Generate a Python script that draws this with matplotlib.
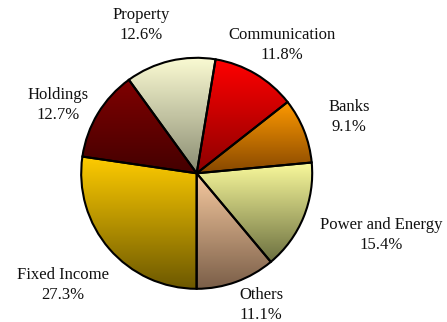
import matplotlib
matplotlib.use("Agg")
import matplotlib.pyplot as plt
import numpy as np
from matplotlib.colors import LinearSegmentedColormap

plt.rcParams['font.family'] = ['Liberation Serif', 'DejaVu Serif']

# slices, clockwise from the top
sectors = ["Communication", "Banks", "Power and Energy", "Others",
           "Fixed Income", "Holdings", "Property"]
shares = [11.8, 9.1, 15.4, 11.1, 27.3, 12.7, 12.6]
top_colors = ["#ff0000", "#ff9a00", "#fafa9c", "#f7caa0",
              "#ffcc00", "#800000", "#fcfcd4"]
bottom_colors = ["#8c0000", "#874800", "#6c7040", "#7a5e48",
                 "#6c5800", "#440000", "#8a8c72"]

# label centres in pixels (x, y from top)
label_pos = [(282, 45), (349, 117), (381, 235), (261, 305),
             (63, 285), (58, 105), (141, 25)]

W, H = 447, 322
fig = plt.figure(figsize=(W / 100, H / 100), dpi=100)
ax = fig.add_axes([0, 0, 1, 1])

cx, cy, R = 196.7, H - 173.3, 115.5
start = 90 - 9.4

wedges, _ = ax.pie(shares, startangle=start, counterclock=False,
                   center=(cx, cy), radius=R, frame=True,
                   wedgeprops=dict(edgecolor='black', linewidth=1.5, facecolor='none'))
ax.set_xlim(0, W)
ax.set_ylim(0, H)
ax.set_aspect('equal')
ax.axis('off')

# vertical gradient inside each slice
grad = np.linspace(0, 1, 256).reshape(-1, 1)
for w, c1, c2 in zip(wedges, top_colors, bottom_colors):
    w.set_zorder(3)
    verts = w.get_patch_transform().transform(w.get_path().vertices)
    x0, x1 = verts[:, 0].min(), verts[:, 0].max()
    y0, y1 = verts[:, 1].min(), verts[:, 1].max()
    cmap = LinearSegmentedColormap.from_list('g', [c2, c1])
    im = ax.imshow(grad, cmap=cmap, extent=(x0, x1, y0, y1), origin='lower',
                   aspect='auto', zorder=2, interpolation='bilinear')
    im.set_clip_path(w)

for name, val, (lx, ly) in zip(sectors, shares, label_pos):
    ax.text(lx, H - ly, "%s\n%.1f%%" % (name, val), ha='center', va='center',
            fontsize=12, linespacing=1.3, color='#111111')

ax.set_xlim(0, W)
ax.set_ylim(0, H)
fig.savefig("out.png", dpi=100)
